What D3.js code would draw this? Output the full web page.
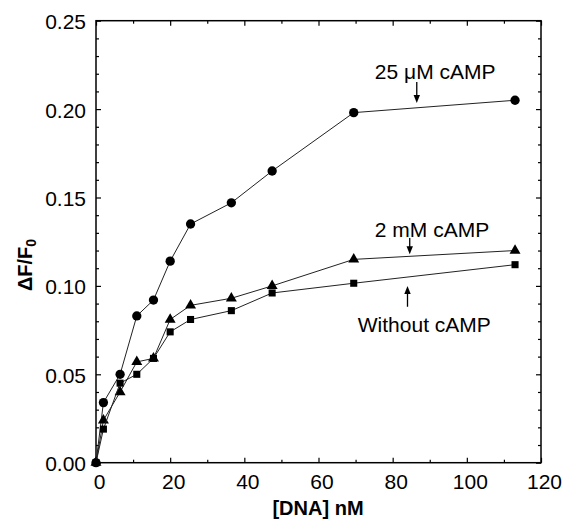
<!DOCTYPE html>
<html>
<head>
<meta charset="utf-8">
<script src="https://cdn.jsdelivr.net/npm/d3@7"></script>
<style>
  html, body { margin: 0; padding: 0; background: #fff; }
  svg { display: block; }
  text { font-family: "Liberation Sans", Arial, Helvetica, sans-serif; fill: #000; }
</style>
</head>
<body>
<svg id="chart" width="564" height="520"></svg>
<script>
// ---- data ----
const dnaConc = [0, 2, 6.5, 11, 15.5, 20, 25.5, 36.5, 47.5, 69.5, 113];
const camp25uM = [0, 0.034, 0.050, 0.083, 0.092, 0.114, 0.135, 0.147, 0.165, 0.198, 0.205];
const camp2mM = [0, 0.024, 0.040, 0.057, 0.059, 0.081, 0.089, 0.093, 0.100, 0.115, 0.120];
const noCamp = [0, 0.019, 0.045, 0.050, 0.059, 0.074, 0.081, 0.086, 0.096, 0.1015, 0.112];
const xTicks = [0, 20, 40, 60, 80, 100, 120];
const xMinorTicks = [10, 30, 50, 70, 90, 110];
const yTicks = [0, 0.05, 0.10, 0.15, 0.20, 0.25];
const yMinorTicks = [0.01,0.02,0.03,0.04,0.06,0.07,0.08,0.09,0.11,0.12,0.13,0.14,0.16,0.17,0.18,0.19,0.21,0.22,0.23,0.24];
const annotationText = ["25 \u03bcM cAMP", "2 mM cAMP", "Without cAMP"];
// annotation anchor positions in data units: text x, text baseline y, arrow x, arrow start y, arrow tip y
const annotationTextX = [75.2, 75.2, 70.6];
const annotationTextY = [0.2168, 0.1278, 0.0741];
const arrowX = [86.5, 84.6, 84.0];
const arrowFromY = [0.2153, 0.1271, 0.0882];
const arrowToY = [0.2035, 0.1179, 0.0999];

// ---- layout ----
const svg = d3.select("#chart");
const mLeft = 96, mRight = 541, mTop = 20.7, mBottom = 462.7;
const x = d3.scaleLinear().domain([0, 120]).range([mLeft, mRight]);
const y = d3.scaleLinear().domain([0, 0.25]).range([mBottom, mTop]);

const g = svg.append("g");

function styleAxis(sel) {
  sel.select(".domain").remove();
  sel.selectAll(".tick line").attr("stroke", "#000").attr("stroke-width", 1.2);
}

// bottom
g.append("g").attr("transform", `translate(0,${mBottom})`)
  .call(d3.axisBottom(x).tickValues(xTicks).tickSize(-5).tickPadding(11).tickFormat(d3.format("d")))
  .call(styleAxis)
  .call(s => s.selectAll("text").attr("font-size", 21).attr("dx", 3));
g.append("g").attr("transform", `translate(0,${mBottom})`)
  .call(d3.axisBottom(x).tickValues(xMinorTicks).tickSize(-3).tickFormat(""))
  .call(styleAxis);
// top
g.append("g").attr("transform", `translate(0,${mTop})`)
  .call(d3.axisTop(x).tickValues(xTicks).tickSize(-5).tickFormat(""))
  .call(styleAxis);
g.append("g").attr("transform", `translate(0,${mTop})`)
  .call(d3.axisTop(x).tickValues(xMinorTicks).tickSize(-3).tickFormat(""))
  .call(styleAxis);
// left
g.append("g").attr("transform", `translate(${mLeft},0)`)
  .call(d3.axisLeft(y).tickValues(yTicks).tickSize(-5).tickPadding(10).tickFormat(d3.format(".2f")))
  .call(styleAxis)
  .call(s => s.selectAll("text").attr("font-size", 21).attr("dy", "0.38em"));
g.append("g").attr("transform", `translate(${mLeft},0)`)
  .call(d3.axisLeft(y).tickValues(yMinorTicks).tickSize(-3).tickFormat(""))
  .call(styleAxis);
// right
g.append("g").attr("transform", `translate(${mRight},0)`)
  .call(d3.axisRight(y).tickValues(yTicks).tickSize(-5).tickFormat(""))
  .call(styleAxis);
g.append("g").attr("transform", `translate(${mRight},0)`)
  .call(d3.axisRight(y).tickValues(yMinorTicks).tickSize(-3).tickFormat(""))
  .call(styleAxis);

// frame
g.append("rect").attr("x", mLeft).attr("y", mTop)
  .attr("width", mRight - mLeft).attr("height", mBottom - mTop)
  .attr("fill", "none").attr("stroke", "#000").attr("stroke-width", 1.5);

// axis titles
svg.append("text").attr("x", 318).attr("y", 515)
  .attr("text-anchor", "middle").attr("font-size", 20).attr("font-weight", "bold")
  .text("[DNA] nM");
const yl = svg.append("text")
  .attr("transform", "translate(32,265) rotate(-90)")
  .attr("text-anchor", "middle").attr("font-size", 20).attr("font-weight", "bold");
yl.append("tspan").text("\u0394F/F");
yl.append("tspan").attr("font-size", 14).attr("dy", 4).text("0");

// series
const series = [
  { vals: camp25uM, sym: d3.symbolCircle, size: 68 },
  { vals: camp2mM, sym: d3.symbolTriangle, size: 52 },
  { vals: noCamp, sym: d3.symbolSquare, size: 50 }
];
const line = d3.line().x(d => x(d[0])).y(d => y(d[1]));
series.forEach(s => {
  const pts = dnaConc.map((c, i) => [c, s.vals[i]]);
  g.append("path").attr("d", line(pts)).attr("fill", "none")
    .attr("stroke", "#222").attr("stroke-width", 1);
  g.selectAll(null).data(pts).enter().append("path")
    .attr("transform", d => `translate(${x(d[0])},${y(d[1])})`)
    .attr("d", d3.symbol().type(s.sym).size(s.size)())
    .attr("fill", "#000");
});

// annotations
annotationText.forEach((t, i) => {
  svg.append("text").attr("x", x(annotationTextX[i])).attr("y", y(annotationTextY[i]))
    .attr("font-size", 21).text(t);
  const ax = x(arrowX[i]), y0 = y(arrowFromY[i]), y1 = y(arrowToY[i]);
  const dir = y1 > y0 ? 1 : -1;
  svg.append("line").attr("x1", ax).attr("x2", ax).attr("y1", y0).attr("y2", y1 - dir * 6)
    .attr("stroke", "#000").attr("stroke-width", 1.3);
  svg.append("path")
    .attr("d", `M${ax},${y1} L${ax - 3.2},${y1 - dir * 8} L${ax + 3.2},${y1 - dir * 8} Z`)
    .attr("fill", "#000");
});
</script>
</body>
</html>
